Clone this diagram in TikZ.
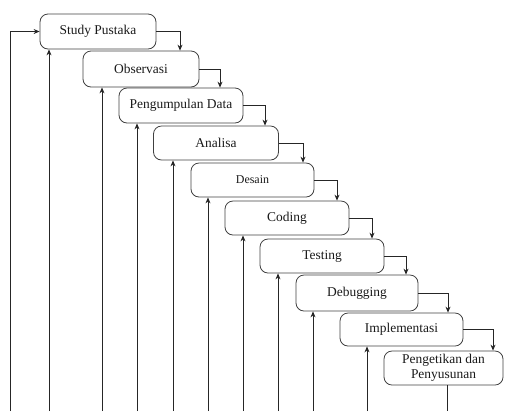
\documentclass[tikz,border=0pt]{standalone}
\usepackage{fontspec}
\setmainfont{Liberation Serif}
\usetikzlibrary{arrows.meta}
\begin{document}
\begin{tikzpicture}[x=1bp,y=-1bp,
  stepbox/.style={draw=black!75, line width=0.8bp, rounded corners=8bp, inner sep=0pt,
    font=\fontsize{13.5}{15.5}\selectfont, text=black!90, align=center},
  arr/.style={draw=black!85, line width=0.8bp, -{Stealth[length=6bp,width=5bp]}},
  ln/.style={draw=black!85, line width=0.8bp}]
\useasboundingbox (0,0) rectangle (505,411);
% boxes: center and size
\node[stepbox, minimum width=116bp, minimum height=35bp] (b1) at (98,31.5) {Study Pustaka};
\node[stepbox, minimum width=116bp, minimum height=36bp] (b2) at (141,69) {Observasi};
\node[stepbox, minimum width=124bp, minimum height=35bp] (b3) at (181,105.5) {Pengumpulan Data};
\node[stepbox, minimum width=125bp, minimum height=34bp] (b4) at (216,143) {Analisa};
\node[stepbox, minimum width=123bp, minimum height=34bp, font=\fontsize{12}{14}\selectfont] (b5) at (252.5,180) {Desain};
\node[stepbox, minimum width=124bp, minimum height=34bp] (b6) at (287,218) {Coding};
\node[stepbox, minimum width=124bp, minimum height=34bp] (b7) at (322,256) {Testing};
\node[stepbox, minimum width=122bp, minimum height=36bp] (b8) at (357,293) {Debugging};
\node[stepbox, minimum width=123bp, minimum height=33bp] (b9) at (401.5,329.5) {Implementasi};
\node[stepbox, minimum width=119bp, minimum height=34bp] (b10) at (443.5,368) {Pengetikan dan\\Penyusunan};
% down-step arrow columns
\coordinate (k2) at (180,0);
\coordinate (k3) at (220,0);
\coordinate (k4) at (265,0);
\coordinate (k5) at (303,0);
\coordinate (k6) at (337,0);
\coordinate (k7) at (372,0);
\coordinate (k8) at (406,0);
\coordinate (k9) at (448,0);
\coordinate (k10) at (493,0);
\draw[arr] (b1.east) -| (b2.north -| k2);
\draw[arr] (b2.east) -| (b3.north -| k3);
\draw[arr] (b3.east) -| (b4.north -| k4);
\draw[arr] (b4.east) -| (b5.north -| k5);
\draw[arr] (b5.east) -| (b6.north -| k6);
\draw[arr] (b6.east) -| (b7.north -| k7);
\draw[arr] (b7.east) -| (b8.north -| k8);
\draw[arr] (b8.east) -| (b9.north -| k9);
\draw[arr] (b9.east) -| (b10.north -| k10);
% feedback lines from below
\coordinate (f0) at (10,411);
\coordinate (f1) at (49,411);
\coordinate (f2) at (102,411);
\coordinate (f3) at (137,411);
\coordinate (f4) at (173,411);
\coordinate (f5) at (208,411);
\coordinate (f6) at (243,411);
\coordinate (f7) at (278,411);
\coordinate (f8) at (313,411);
\coordinate (f9) at (367,411);
\coordinate (f10) at (447,411);
\draw[arr] (f0) |- (b1.west);
\draw[arr] (f1) -- (b1.south -| f1);
\draw[arr] (f2) -- (b2.south -| f2);
\draw[arr] (f3) -- (b3.south -| f3);
\draw[arr] (f4) -- (b4.south -| f4);
\draw[arr] (f5) -- (b5.south -| f5);
\draw[arr] (f6) -- (b6.south -| f6);
\draw[arr] (f7) -- (b7.south -| f7);
\draw[arr] (f8) -- (b8.south -| f8);
\draw[arr] (f9) -- (b9.south -| f9);
\draw[ln] (b10.south -| f10) -- (f10);
\end{tikzpicture}
\end{document}
